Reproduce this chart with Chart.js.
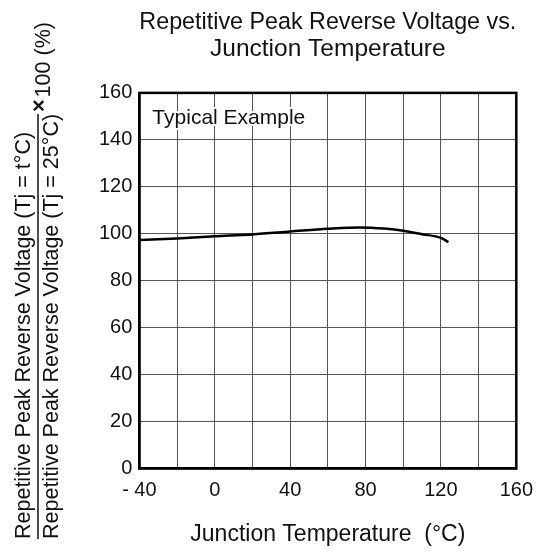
<!DOCTYPE html>
<html>
<head>
<meta charset="utf-8">
<script src="https://cdn.jsdelivr.net/npm/chart.js@4"></script>
<style>
  html, body { margin: 0; padding: 0; background: #fff; }
  #wrap { width: 543px; height: 551px; }
</style>
</head>
<body>
<div id="wrap"><canvas id="vrChart" width="543" height="551"></canvas></div>
<script>
// values (Tj in °C, ratio in %)
const tempC = [-40, -20, 0, 20, 40, 60, 77, 90, 100, 110, 120, 124];
const ratioPct = [97.3, 98.0, 98.9, 99.7, 100.9, 102.1, 102.7, 102.2, 101.3, 99.8, 98.2, 96.4];

const xTickLabels = [-40, 0, 40, 80, 120, 160];
const chartTitle = ['Repetitive Peak Reverse Voltage vs.', 'Junction Temperature'];
const xTitle = 'Junction Temperature  (°C)';
const yNumerator = 'Repetitive Peak Reverse Voltage (Tj = t°C)';
const yDenominator = 'Repetitive Peak Reverse Voltage (Tj = 25°C)';
const noteText = 'Typical Example';

const FONT = "'Liberation Sans', Arial, sans-serif";

const points = tempC.map((t, i) => ({ x: t, y: ratioPct[i] }));

// frame, note box and the fraction-style y title
const extras = {
  id: 'extras',
  afterDatasetsDraw(chart) {
    const { ctx, chartArea: a } = chart;
    ctx.save();
    ctx.strokeStyle = '#000';
    ctx.lineWidth = 2.5;
    ctx.strokeRect(a.left, a.top, a.right - a.left, a.bottom - a.top);

    ctx.font = '21px ' + FONT;
    ctx.textBaseline = 'alphabetic';
    ctx.textAlign = 'left';
    ctx.lineJoin = 'round';
    ctx.strokeStyle = '#fff';
    ctx.lineWidth = 4;
    ctx.strokeText(noteText, a.left + 13, a.top + 31);
    ctx.fillStyle = '#111';
    ctx.fillText(noteText, a.left + 13, a.top + 31);
    ctx.restore();
  },
  afterDraw(chart) {
    const { ctx } = chart;
    ctx.save();
    ctx.translate(0, 539);
    ctx.rotate(-Math.PI / 2);
    // now +x goes up the page, +y goes to the right
    ctx.fillStyle = '#111';
    ctx.textAlign = 'left';
    ctx.textBaseline = 'alphabetic';
    ctx.font = '21.5px ' + FONT;
    ctx.fillText(yNumerator, 0, 30);
    ctx.fillText(yDenominator, 0, 58);
    const w = ctx.measureText(yDenominator).width;
    ctx.strokeStyle = '#111';
    ctx.lineWidth = 1.5;
    ctx.beginPath();
    ctx.moveTo(0, 38);
    ctx.lineTo(w, 38);
    ctx.stroke();
    ctx.font = 'bold 21.5px ' + FONT;
    ctx.fillText('×', w + 2, 46);
    const wx = ctx.measureText('×').width;
    ctx.font = '21.5px ' + FONT;
    ctx.fillText('100 (%)', w + wx + 4, 50);
    ctx.restore();
  }
};

new Chart(document.getElementById('vrChart'), {
  type: 'scatter',
  data: {
    datasets: [{
      data: points,
      showLine: true,
      borderColor: '#000',
      borderWidth: 2.5,
      pointRadius: 0,
      cubicInterpolationMode: 'monotone',
      fill: false
    }]
  },
  options: {
    responsive: false,
    animation: false,
    layout: { padding: { left: 92, right: 26, top: 9, bottom: 3 } },
    plugins: {
      legend: { display: false },
      tooltip: { enabled: false },
      title: {
        display: true,
        text: chartTitle,
        fullSize: false,
        color: '#111',
        font: { family: FONT, size: 24.5, weight: 'normal', lineHeight: 1.1 },
        padding: { top: 0, bottom: 30 }
      }
    },
    scales: {
      x: {
        type: 'linear',
        min: -40,
        max: 160,
        ticks: {
          stepSize: 20,
          autoSkip: false,
          maxRotation: 0,
          color: '#111',
          font: { family: FONT, size: 20 },
          padding: 10,
          callback: (v) => xTickLabels.includes(v) ? (v < 0 ? '- ' + (-v) : String(v)) : ''
        },
        grid: { color: '#555', lineWidth: 1, drawTicks: false },
        border: { display: true, color: '#000', width: 2.5 },
        title: {
          display: true,
          text: xTitle,
          color: '#111',
          font: { family: FONT, size: 23 },
          padding: { top: 8, bottom: 0 }
        }
      },
      y: {
        min: 0,
        max: 160,
        ticks: {
          stepSize: 20,
          color: '#111',
          font: { family: FONT, size: 20 },
          padding: 7
        },
        grid: { color: '#555', lineWidth: 1, drawTicks: false },
        border: { display: true, color: '#000', width: 2.5 }
      }
    }
  },
  plugins: [extras]
});
</script>
</body>
</html>
